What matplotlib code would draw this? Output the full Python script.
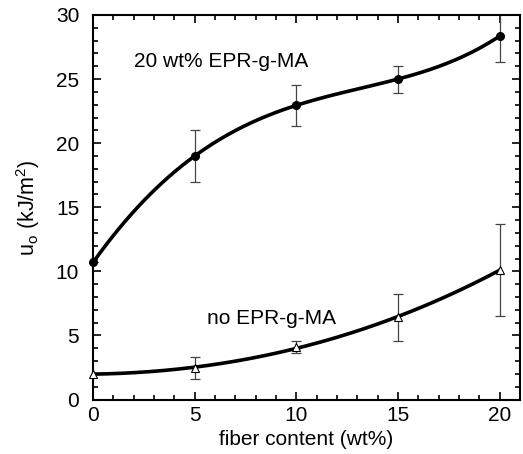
import numpy as np
import matplotlib
matplotlib.use("Agg")
import matplotlib.pyplot as plt
from matplotlib.ticker import MultipleLocator

plt.rcParams['font.family'] = ['Liberation Sans', 'DejaVu Sans']
plt.rcParams['mathtext.fontset'] = 'custom'
plt.rcParams['mathtext.rm'] = 'Liberation Sans'

fiber = [0, 5, 10, 15, 20]
with_ma = [10.7, 19.0, 22.95, 25.0, 28.35]
with_ma_err = [0.0, 2.0, 1.6, 1.05, 2.0]
no_ma = [2.0, 2.45, 4.1, 6.4, 10.1]
no_ma_err = [0.0, 0.85, 0.5, 1.8, 3.6]

fig = plt.figure(figsize=(5.23, 4.54), dpi=100)
ax = fig.add_axes([0.178, 0.12, 0.816, 0.847])

xs = np.linspace(0, 20, 200)
c1 = np.polyfit(fiber, with_ma, 4)
c2 = np.polyfit(fiber, no_ma, 3)
ax.plot(xs, np.polyval(c1, xs), color='black', lw=2.6, zorder=3)
ax.plot(xs, np.polyval(c2, xs), color='black', lw=2.6, zorder=3)

ax.errorbar(fiber, with_ma, yerr=with_ma_err, fmt='none', ecolor='#444444',
            elinewidth=0.9, capsize=3.5, capthick=0.9, zorder=2)
ax.errorbar(fiber, no_ma, yerr=no_ma_err, fmt='none', ecolor='#444444',
            elinewidth=0.9, capsize=3.5, capthick=0.9, zorder=2)
ax.plot(fiber, with_ma, 'o', color='black', ms=5.5, zorder=4, clip_on=False)
ax.plot(fiber, no_ma, '^', mfc='white', mec='black', mew=0.8, ms=6, zorder=4, clip_on=False)

ax.set_xlim(0, 21)
ax.set_ylim(0, 30)
ax.xaxis.set_major_locator(MultipleLocator(5))
ax.xaxis.set_minor_locator(MultipleLocator(1))
ax.yaxis.set_major_locator(MultipleLocator(5))
ax.yaxis.set_minor_locator(MultipleLocator(1))
ax.tick_params(which='both', direction='in', top=True, right=True, width=1.2)
ax.tick_params(which='major', length=6, labelsize=15)
ax.tick_params(axis='x', which='major', pad=5)
ax.tick_params(axis='y', which='major', pad=10)
ax.tick_params(which='minor', length=3.5)
for s in ax.spines.values():
    s.set_linewidth(1.5)

ax.set_xlabel('fiber content (wt%)', fontsize=15, labelpad=3)
ax.set_ylabel(r'u$_\mathregular{o}$ (kJ/m$^\mathregular{2}$)', fontsize=15.5, labelpad=10)

ax.text(2.0, 26.4, '20 wt% EPR-g-MA', fontsize=15, va='center', ha='left')
ax.text(5.6, 6.35, 'no EPR-g-MA', fontsize=15, va='center', ha='left')

fig.savefig('out.png', dpi=100)
